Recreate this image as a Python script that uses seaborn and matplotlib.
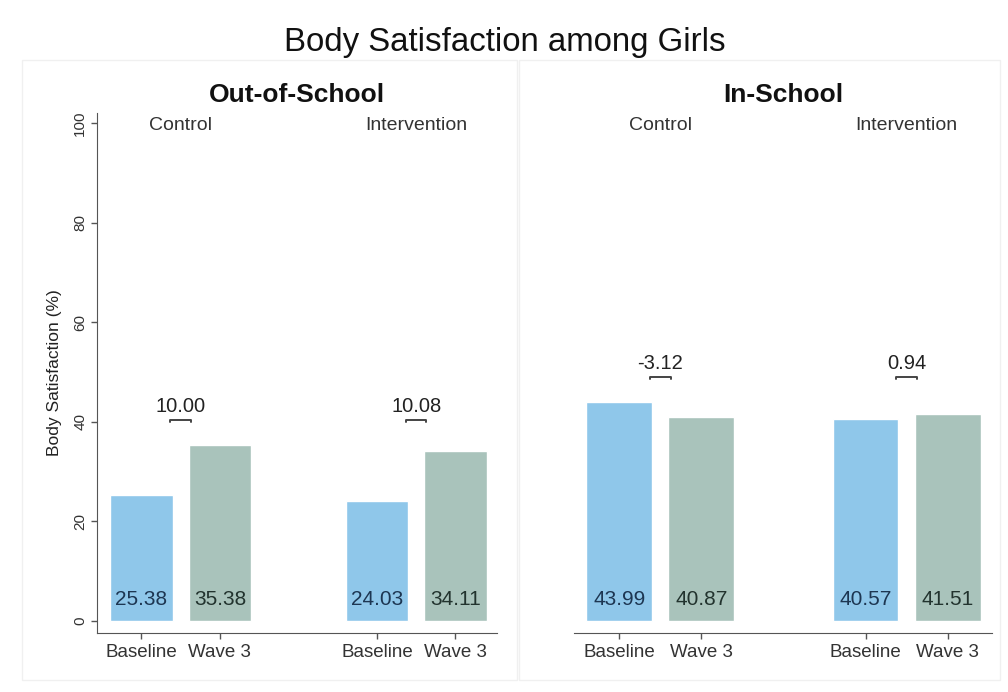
import pandas as pd
import matplotlib.pyplot as plt
import seaborn as sns
from matplotlib.patches import Rectangle

# values
groups = ['Control', 'Intervention']
waves = ['Baseline', 'Wave 3']
panels = ['Out-of-School', 'In-School']
out_of_school = [25.38, 35.38, 24.03, 34.11]
in_school = [43.99, 40.87, 40.57, 41.51]

bar_colors = {'Baseline': '#8fc7ea', 'Wave 3': '#a9c3bb'}
label_colors = {'Baseline': '#1d3652', 'Wave 3': '#22332e'}

sns.set_style('white')
plt.rcParams['font.family'] = ['Liberation Sans', 'DejaVu Sans']

# category slots, with an empty slot between the two groups
order = ['Control|Baseline', 'Control|Wave 3', 'gap',
         'Intervention|Baseline', 'Intervention|Wave 3']

rows = []
for panel, vals in zip(panels, [out_of_school, in_school]):
    i = 0
    for g in groups:
        for w in waves:
            rows.append({'panel': panel, 'group': g, 'wave': w,
                         'slot': g + '|' + w, 'value': vals[i]})
            i += 1
df = pd.DataFrame(rows)

fig = plt.figure(figsize=(10.08, 6.92), dpi=100)
fig.patch.set_facecolor('white')

# faint panel frames
fig.add_artist(Rectangle((22 / 1008, 1 - 680 / 692), 495 / 1008, 620 / 692,
                         transform=fig.transFigure, fill=False, edgecolor='#f0f0f0', lw=1))
fig.add_artist(Rectangle((519 / 1008, 1 - 680 / 692), 481 / 1008, 620 / 692,
                         transform=fig.transFigure, fill=False, edgecolor='#f0f0f0', lw=1))

ax_pos = [[97 / 1008, 59 / 692, 400 / 1008, 520 / 692],
          [574 / 1008, 59 / 692, 418 / 1008, 520 / 692]]
xlims = [(-0.566, 4.53), (-0.55, 4.54)]

for k, panel in enumerate(panels):
    ax = fig.add_axes(ax_pos[k])
    d = df[df['panel'] == panel]
    sns.barplot(data=d, x='slot', y='value', hue='wave', order=order,
                hue_order=waves, palette=bar_colors, dodge=False, width=0.8,
                saturation=1, legend=False, ax=ax)
    ax.set_xlim(*xlims[k])
    ax.set_ylim(-2.4, 102)
    ax.set_xticks([0, 1, 3, 4])
    ax.set_xticklabels(['Baseline', 'Wave 3', 'Baseline', 'Wave 3'], fontsize=13.5, color='#333333')
    ax.set_xlabel('')
    ax.tick_params(axis='x', length=4, width=1, color='#555555', pad=4, bottom=True)
    for s in ['top', 'right']:
        ax.spines[s].set_visible(False)
    ax.spines['bottom'].set_color('#555555')
    ax.spines['left'].set_color('#555555')

    if k == 0:
        ax.set_yticks([0, 20, 40, 60, 80, 100])
        ax.tick_params(axis='y', length=4, width=1, color='#555555', pad=3, left=True,
                       labelsize=11, labelcolor='#333333')
        for t in ax.get_yticklabels():
            t.set_rotation(90)
            t.set_va('center')
        ax.set_ylabel('Body Satisfaction (%)', fontsize=12.5, color='#222222')
        ax.yaxis.set_label_coords(-0.088, 0.5)
    else:
        ax.spines['left'].set_visible(False)
        ax.set_yticks([])
        ax.set_ylabel('')

    # value labels inside the bars
    for _, r in d.iterrows():
        ax.text(order.index(r['slot']), 4.3, f"{r['value']:.2f}", ha='center', va='center',
                fontsize=15, color=label_colors[r['wave']])

    # change between waves, drawn above each pair
    top = d['value'].max() + 5
    for g in groups:
        base = d[(d['group'] == g) & (d['wave'] == 'Baseline')]['value'].iloc[0]
        w3 = d[(d['group'] == g) & (d['wave'] == 'Wave 3')]['value'].iloc[0]
        xc = (order.index(g + '|Baseline') + order.index(g + '|Wave 3')) / 2
        ax.plot([xc - 0.13, xc - 0.13, xc + 0.13, xc + 0.13],
                [top - 0.4, top, top, top - 0.4], color='#444444', lw=1.4, clip_on=False)
        ax.text(xc, top + 0.8, f"{w3 - base:.2f}", ha='center', va='bottom',
                fontsize=14.5, color='#222222')
        ax.text(xc, 99.5, g, ha='center', va='center', fontsize=14, color='#333333')

    ax.text(0.5, 1.0346, panel, transform=ax.transAxes, ha='center', va='center',
            fontsize=19, fontweight='bold', color='#111111')

fig.text(505 / 1008, 1 - 42 / 692, 'Body Satisfaction among Girls', ha='center', va='center',
         fontsize=23.8, color='#111111')

plt.savefig('out.png', dpi=100, facecolor='white')
